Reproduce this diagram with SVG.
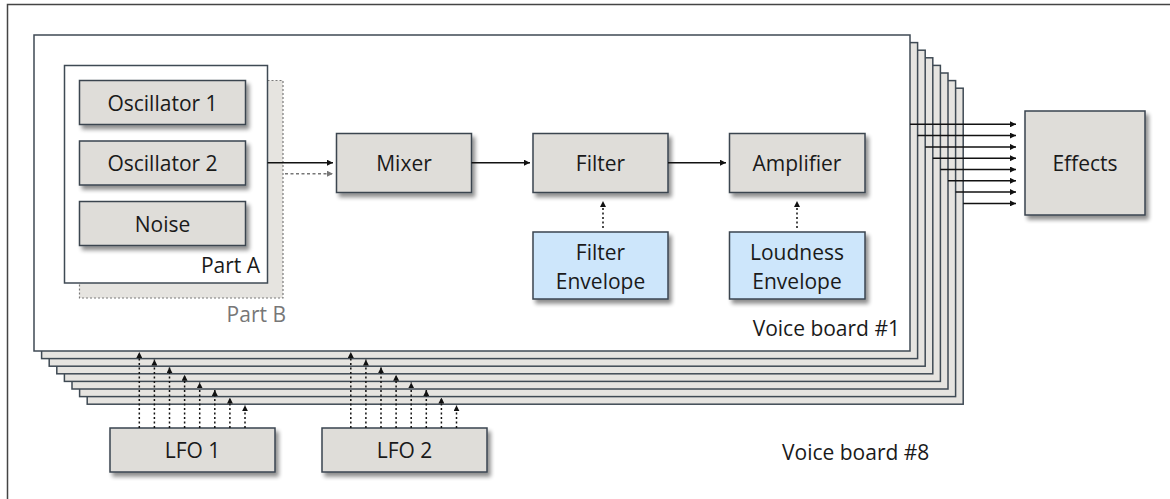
<svg xmlns="http://www.w3.org/2000/svg" width="1170" height="499" viewBox="0 0 1170 499">
  <style>
    text { font-family: "Open Sans", "Noto Sans", "DejaVu Sans", sans-serif; font-size: 21px; fill: #1a1a1a; }
    .mid { text-anchor: middle; }
    .end { text-anchor: end; }
    .frame { fill: #ffffff; stroke: #444444; stroke-width: 1.5; }
    .board { fill: #e6e4e0; stroke: #3f4a54; stroke-width: 1.5; }
    .board1 { fill: #ffffff; stroke: #3f4a54; stroke-width: 1.5; }
    .partA { fill: #ffffff; stroke: #3f4a54; stroke-width: 1.5; }
    .partB { fill: #e6e4e0; stroke: #7a7a7a; stroke-width: 1.2; stroke-dasharray: 2 2; }
    .box { fill: #dfddd9; stroke: #3a4550; stroke-width: 1.5; filter: url(#shadow); }
    .env { fill: #cde6fb; stroke: #3a4550; stroke-width: 1.5; filter: url(#shadow); }
    .flow { fill: none; stroke: #111111; stroke-width: 1.5; marker-end: url(#arrow); }
    .flowB { fill: none; stroke: #777777; stroke-width: 1.5; stroke-dasharray: 3 2.5; marker-end: url(#arrowGray); }
    .mod { fill: none; stroke: #111111; stroke-width: 1.5; stroke-dasharray: 2 2.5; marker-end: url(#arrow); }
    .grey { fill: #777777; }
  </style>
  <defs>
    <filter id="shadow" x="-10%" y="-10%" width="130%" height="140%">
      <feGaussianBlur in="SourceAlpha" stdDeviation="2"/>
      <feOffset dx="3" dy="4" result="blur"/>
      <feComponentTransfer><feFuncA type="linear" slope="0.45"/></feComponentTransfer>
      <feMerge><feMergeNode/><feMergeNode in="SourceGraphic"/></feMerge>
    </filter>
    <marker id="arrow" viewBox="0 0 6 6" refX="6" refY="3" markerWidth="6" markerHeight="6" markerUnits="userSpaceOnUse" orient="auto">
      <path d="M0,0 L6,3 L0,6 z" fill="#111111"/>
    </marker>
    <marker id="arrowGray" viewBox="0 0 6 6" refX="6" refY="3" markerWidth="6" markerHeight="6" markerUnits="userSpaceOnUse" orient="auto">
      <path d="M0,0 L6,3 L0,6 z" fill="#777777"/>
    </marker>
  </defs>

  <!-- outer frame -->
  <rect class="frame" x="7.5" y="4.5" width="1180" height="510"/>

  <!-- stack of voice boards, back to front -->
  <g id="voice-boards">
    <rect class="board" x="87.2" y="88.2" width="876" height="316"/>
    <rect class="board" x="79.6" y="80.6" width="876" height="316"/>
    <rect class="board" x="72" y="73" width="876" height="316"/>
    <rect class="board" x="64.4" y="65.4" width="876" height="316"/>
    <rect class="board" x="56.8" y="57.8" width="876" height="316"/>
    <rect class="board" x="49.2" y="50.2" width="876" height="316"/>
    <rect class="board" x="41.6" y="42.6" width="876" height="316"/>
    <rect class="board1" x="34" y="35" width="876" height="316"/>
    <text class="end" x="900" y="336">Voice board #1</text>
    <text x="782" y="460">Voice board #8</text>
  </g>

  <!-- sound sources, parts A and B -->
  <g id="part-b">
    <rect class="partB" x="79.5" y="80.5" width="203.5" height="217.5"/>
    <text class="end grey" x="286" y="322">Part B</text>
  </g>
  <g id="part-a">
    <rect class="partA" x="64.5" y="65.5" width="203" height="217.5"/>
    <text class="end" x="260" y="273">Part A</text>
  </g>
  <g id="oscillator-1">
    <rect class="box" x="79.5" y="80.5" width="166" height="44"/>
    <text class="mid" x="162.5" y="110.5">Oscillator 1</text>
  </g>
  <g id="oscillator-2">
    <rect class="box" x="79.5" y="141" width="166" height="44"/>
    <text class="mid" x="162.5" y="171">Oscillator 2</text>
  </g>
  <g id="noise">
    <rect class="box" x="79.5" y="201.5" width="166" height="44"/>
    <text class="mid" x="162.5" y="231.5">Noise</text>
  </g>

  <!-- signal chain -->
  <g id="mixer">
    <rect class="box" x="336.5" y="133.5" width="135" height="59"/>
    <text class="mid" x="404" y="170.5">Mixer</text>
  </g>
  <g id="filter">
    <rect class="box" x="533" y="133.5" width="135" height="59"/>
    <text class="mid" x="600.5" y="170.5">Filter</text>
  </g>
  <g id="amplifier">
    <rect class="box" x="729.5" y="133.5" width="135.5" height="59"/>
    <text class="mid" x="797" y="170.5">Amplifier</text>
  </g>
  <g id="filter-envelope">
    <rect class="env" x="533" y="232" width="135" height="67"/>
    <text class="mid" x="600.5" y="259.5">Filter</text>
    <text class="mid" x="600.5" y="288.5">Envelope</text>
  </g>
  <g id="loudness-envelope">
    <rect class="env" x="729.5" y="232" width="135.5" height="67"/>
    <text class="mid" x="797" y="259.5">Loudness</text>
    <text class="mid" x="797" y="288.5">Envelope</text>
  </g>
  <g id="effects">
    <rect class="box" x="1025" y="111" width="120" height="104"/>
    <text class="mid" x="1085" y="171">Effects</text>
  </g>
  <g id="lfo-1">
    <rect class="box" x="110" y="428" width="165" height="44"/>
    <text class="mid" x="192.5" y="458">LFO 1</text>
  </g>
  <g id="lfo-2">
    <rect class="box" x="322" y="428" width="165" height="44"/>
    <text class="mid" x="404.5" y="458">LFO 2</text>
  </g>

  <g id="connectors">
    <!-- audio path -->
    <line class="flow" x1="267.5" y1="162.7" x2="333" y2="162.7"/>
    <line class="flowB" x1="285" y1="173.7" x2="333" y2="173.7"/>
    <line class="flow" x1="471.5" y1="162.7" x2="530" y2="162.7"/>
    <line class="flow" x1="668" y1="162.7" x2="726" y2="162.7"/>
    <!-- envelope modulation -->
    <line class="mod" x1="603" y1="228" x2="603" y2="201"/>
    <line class="mod" x1="797" y1="228" x2="797" y2="201"/>
    <!-- board outputs to effects -->
    <line class="flow" x1="910" y1="124.3" x2="1016" y2="124.3"/>
    <line class="flow" x1="917.6" y1="135.6" x2="1016" y2="135.6"/>
    <line class="flow" x1="925.2" y1="146.9" x2="1016" y2="146.9"/>
    <line class="flow" x1="932.8" y1="158.2" x2="1016" y2="158.2"/>
    <line class="flow" x1="940.4" y1="169.5" x2="1016" y2="169.5"/>
    <line class="flow" x1="948" y1="180.8" x2="1016" y2="180.8"/>
    <line class="flow" x1="955.6" y1="192.1" x2="1016" y2="192.1"/>
    <line class="flow" x1="963.2" y1="203.4" x2="1016" y2="203.4"/>
    <!-- LFO 1 to each board -->
    <line class="mod" x1="139.3" y1="428" x2="139.3" y2="352"/>
    <line class="mod" x1="154.4" y1="428" x2="154.4" y2="359.6"/>
    <line class="mod" x1="169.5" y1="428" x2="169.5" y2="367.2"/>
    <line class="mod" x1="184.6" y1="428" x2="184.6" y2="374.8"/>
    <line class="mod" x1="199.7" y1="428" x2="199.7" y2="382.4"/>
    <line class="mod" x1="214.8" y1="428" x2="214.8" y2="390"/>
    <line class="mod" x1="229.9" y1="428" x2="229.9" y2="397.6"/>
    <line class="mod" x1="245" y1="428" x2="245" y2="405.2"/>
    <!-- LFO 2 to each board -->
    <line class="mod" x1="350.8" y1="428" x2="350.8" y2="352"/>
    <line class="mod" x1="365.9" y1="428" x2="365.9" y2="359.6"/>
    <line class="mod" x1="381" y1="428" x2="381" y2="367.2"/>
    <line class="mod" x1="396.1" y1="428" x2="396.1" y2="374.8"/>
    <line class="mod" x1="411.2" y1="428" x2="411.2" y2="382.4"/>
    <line class="mod" x1="426.3" y1="428" x2="426.3" y2="390"/>
    <line class="mod" x1="441.4" y1="428" x2="441.4" y2="397.6"/>
    <line class="mod" x1="456.5" y1="428" x2="456.5" y2="405.2"/>
  </g>
</svg>
